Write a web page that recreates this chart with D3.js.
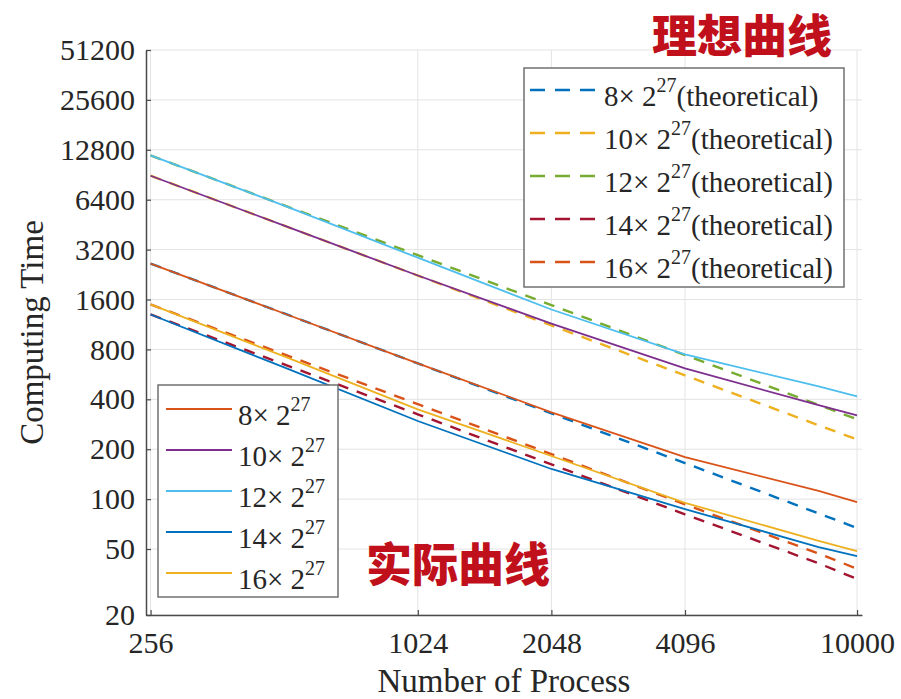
<!DOCTYPE html>
<html>
<head>
<meta charset="utf-8">
<script src="https://cdn.jsdelivr.net/npm/d3@7"></script>
<style>
  html, body { margin: 0; padding: 0; background: #fff; }
  svg { display: block; }
</style>
</head>
<body>
<svg id="chart" width="901" height="699"></svg>
<script>
// ---------- data ----------
const processes = [256, 512, 1024, 2048, 4096, 8192, 10000];
const xTicks = [256, 1024, 2048, 4096, 10000];
const yTicks = [20, 50, 100, 200, 400, 800, 1600, 3200, 6400, 12800, 25600, 51200];

// actual (solid)
const actual8  = [2635, 1318, 659, 334, 179, 112, 96];
const actual10 = [8930, 4466, 2233, 1145, 614, 369, 320];
const actual12 = [11840, 5890, 2860, 1393, 746, 478, 417];
const actual14 = [1300, 623, 296, 152, 87, 51.4, 45.3];
const actual16 = [1494, 726, 348, 182, 95, 56, 48.5];

// theoretical (dashed)
const theo8  = [2635, 1318, 659, 329, 165, 82, 67];
const theo10 = [8930, 4465, 2233, 1116, 558, 279, 229];
const theo12 = [11840, 5920, 2960, 1480, 740, 370, 303];
const theo14 = [1300, 650, 325, 162, 81, 41, 33];
const theo16 = [1494, 747, 374, 187, 93, 47, 38];

const sizeLabels = ["8", "10", "12", "14", "16"];
const actualSeries = [actual8, actual10, actual12, actual14, actual16];
const theoSeries = [theo8, theo10, theo12, theo14, theo16];
const actualColors = ["#D95319", "#7E2F8E", "#4DBEEE", "#0072BD", "#EDB120"];
const theoColors = ["#0072BD", "#EDB120", "#77AC30", "#A2142F", "#D95319"];

// ---------- layout ----------
const svg = d3.select("#chart");
const serif = "'Liberation Serif', 'Times New Roman', serif";
const pLeft = 146, pRight = 862, pTop = 50, pBottom = 615;

const x = d3.scaleLog().domain([250, 10260]).range([pLeft, pRight]);
const y = d3.scaleLog().domain([20, 51200]).range([pBottom, pTop]);

// grid
const grid = svg.append("g").attr("stroke", "#e3e3e3").attr("stroke-width", 1);
yTicks.forEach(v => {
  grid.append("line").attr("x1", pLeft).attr("x2", pRight)
    .attr("y1", y(v)).attr("y2", y(v));
});
xTicks.forEach(v => {
  grid.append("line").attr("x1", x(v)).attr("x2", x(v))
    .attr("y1", pTop).attr("y2", pBottom);
});

// lines
const line = d3.line().x((d, i) => x(processes[i])).y(d => y(d));
const plot = svg.append("g").attr("fill", "none");
theoSeries.forEach((s, k) => {
  plot.append("path").datum(s).attr("d", line)
    .attr("stroke", theoColors[k]).attr("stroke-width", 2.4)
    .attr("stroke-dasharray", "11,9");
});
actualSeries.forEach((s, k) => {
  plot.append("path").datum(s).attr("d", line)
    .attr("stroke", actualColors[k]).attr("stroke-width", 1.8);
});

// axes
const axisColor = "#4a4a4a";
const yAxis = svg.append("g").attr("transform", `translate(${pLeft},0)`)
  .call(d3.axisLeft(y).tickValues(yTicks).tickFormat(d3.format("d"))
    .tickSizeInner(-5).tickSizeOuter(0).tickPadding(11));
const xAxis = svg.append("g").attr("transform", `translate(0,${pBottom})`)
  .call(d3.axisBottom(x).tickValues(xTicks).tickFormat(d3.format("d"))
    .tickSizeInner(-5).tickSizeOuter(0).tickPadding(17));
[xAxis, yAxis].forEach(a => {
  a.select(".domain").attr("stroke", axisColor).attr("stroke-width", 1.5);
  a.selectAll(".tick line").attr("stroke", axisColor).attr("stroke-width", 1.2);
  a.selectAll(".tick text").attr("fill", "#262626")
    .style("font-family", serif).style("font-size", "30px");
});

// axis titles
svg.append("text").attr("x", (pLeft + pRight) / 2).attr("y", 692)
  .attr("text-anchor", "middle").attr("fill", "#262626")
  .style("font-family", serif).style("font-size", "33px")
  .text("Number of Process");
svg.append("text").attr("transform", `translate(43,${(pTop + pBottom) / 2}) rotate(-90)`)
  .attr("text-anchor", "middle").attr("fill", "#262626")
  .style("font-family", serif).style("font-size", "33px")
  .text("Computing Time");

// legends
function legend(box, rows, colors, dashed, suffix, rowY, lineX1, lineX2, textX) {
  svg.append("rect").attr("x", box[0]).attr("y", box[1])
    .attr("width", box[2]).attr("height", box[3])
    .attr("fill", "#fff").attr("stroke", "#707070").attr("stroke-width", 1.5);
  rows.forEach((lab, i) => {
    const yy = rowY[i];
    const ln = svg.append("line").attr("x1", lineX1).attr("x2", lineX2)
      .attr("y1", yy).attr("y2", yy).attr("stroke", colors[i])
      .attr("stroke-width", dashed ? 2.6 : 2);
    if (dashed) ln.attr("stroke-dasharray", "15,10");
    const t = svg.append("text").attr("x", textX).attr("y", yy + 16)
      .attr("fill", "#262626").style("font-family", serif).style("font-size", "29px");
    t.append("tspan").text(lab + "\u00d7 2");
    t.append("tspan").attr("dy", -14).style("font-size", "20px").text("27");
    if (suffix) t.append("tspan").attr("dy", 14).text(suffix);
  });
}
legend([524, 68, 320, 219], sizeLabels, theoColors, true, "(theoretical)",
  [90, 133, 176, 219, 262], 530, 596, 604);
legend([158, 385, 180, 212], sizeLabels, actualColors, false, "",
  [409, 450, 491, 532, 573], 166, 232, 238);

// Chinese annotations
const cjk = "'Noto Sans CJK SC', sans-serif";
svg.append("text").attr("x", 652).attr("y", 53).attr("fill", "#C0101C")
  .style("font-family", cjk).style("font-weight", "900").style("font-size", "45px")
  .text("理想曲线");
svg.append("text").attr("x", 366).attr("y", 581).attr("fill", "#C0101C")
  .style("font-family", cjk).style("font-weight", "900").style("font-size", "46px")
  .text("实际曲线");
</script>
</body>
</html>
